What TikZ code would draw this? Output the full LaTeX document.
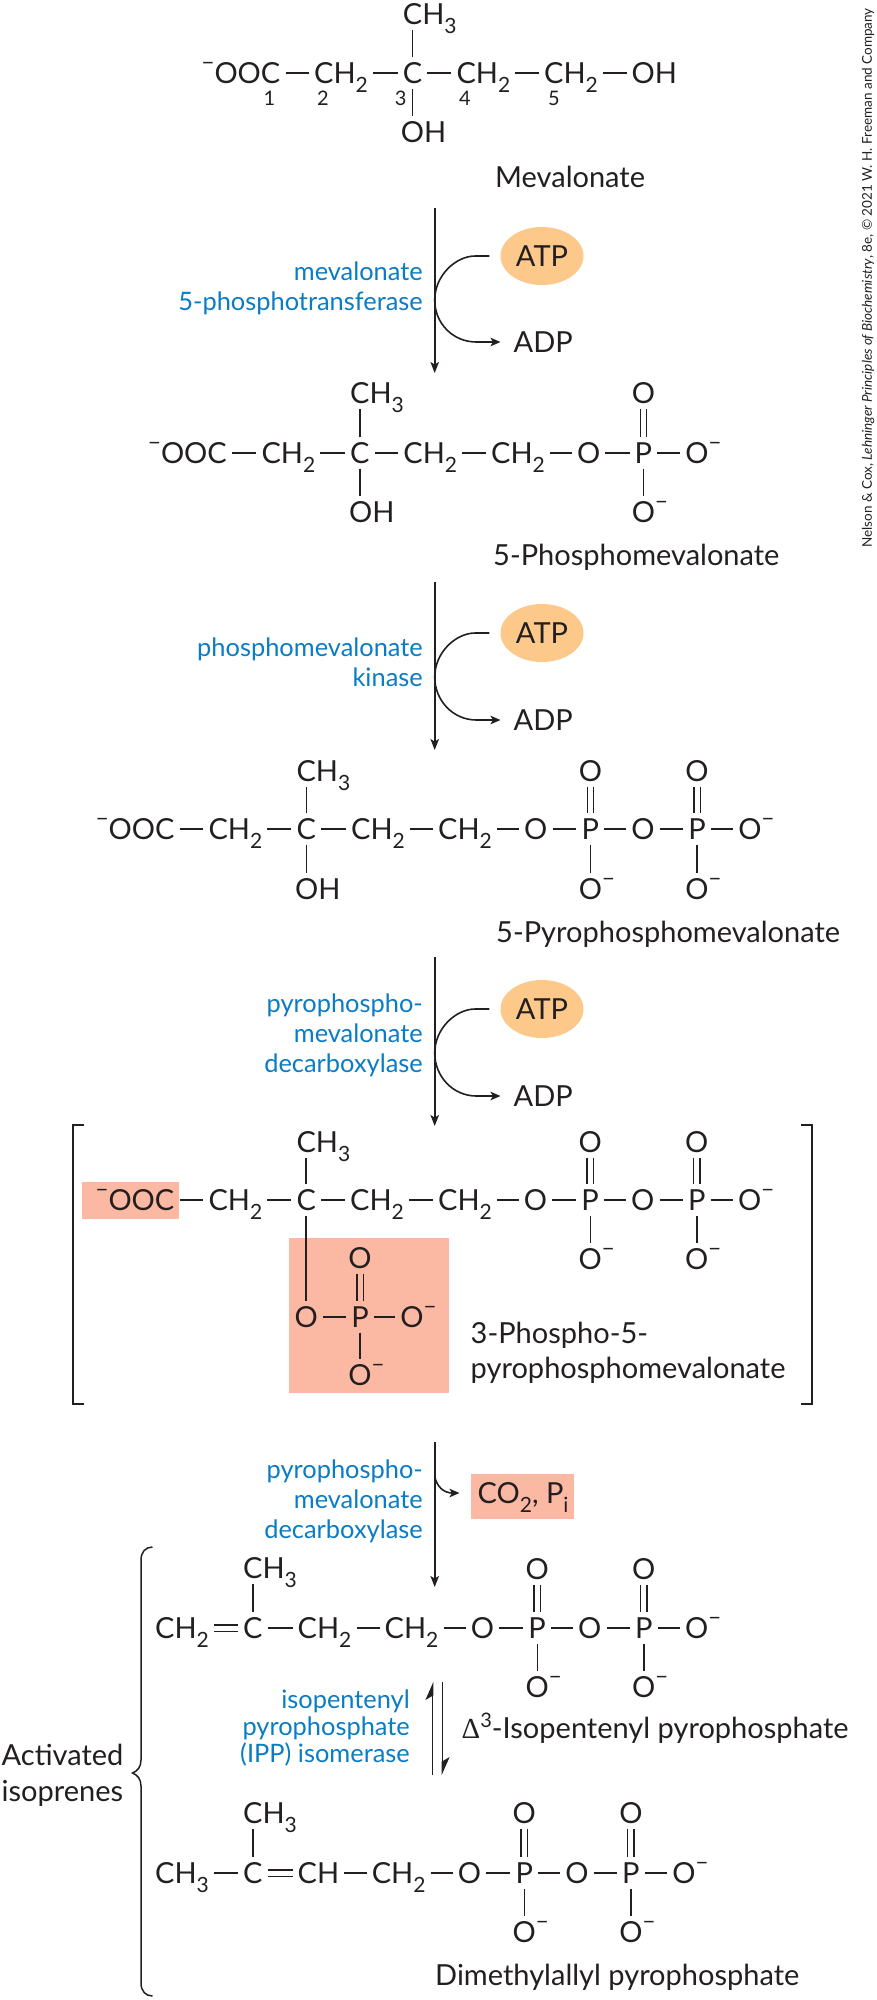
\documentclass[tikz,border=0pt]{standalone}
\usepackage{fontspec}
\setmainfont{Lato}
\newfontfamily\deltafont{Liberation Serif}
\usetikzlibrary{arrows.meta,shapes.geometric,calc}
\definecolor{ink}{HTML}{231F20}
\definecolor{enzyme}{HTML}{0A7CC4}
\definecolor{salmon}{HTML}{FBB9A3}
\definecolor{atpfill}{HTML}{FDC98A}
\newcommand\bodysize{\fontsize{29}{30}\selectfont}
\newcommand\sbs[1]{\raisebox{-8.5pt}{\fontsize{21}{21}\selectfont #1}}
\newcommand\mns{\raisebox{13pt}{\fontsize{22}{22}\selectfont −}}
\newcommand\oneg{O\rlap{\mns}}
\tikzset{
  bond/.style={draw=ink,line width=1.4pt},
  atomtext/.style={inner xsep=5pt,inner ysep=5pt,text height=21pt,text depth=0pt,font=\bodysize,text=ink},
  atom/.style={atomtext,anchor=west,xshift=-5pt},
  catom/.style={atomtext,anchor=center},
  namelabel/.style={anchor=west,inner sep=0pt,text height=21pt,text depth=0pt,font=\bodysize,text=ink},
  carbonnum/.style={inner sep=0pt,font=\fontsize{20}{20}\selectfont,text=ink},
  enzymelabel/.style={anchor=base east,inner sep=0pt,align=right,font=\fontsize{25.4}{30}\selectfont,text=enzyme},
  flow/.style={draw=ink,line width=1.6pt,-{Stealth[length=11pt,width=8.5pt,inset=2.5pt]}},
  sidecurve/.style={draw=ink,line width=1.6pt,-{Stealth[length=10pt,width=8.5pt,inset=2.5pt]}},
  eqarrow/.style={draw=ink,line width=1.6pt,-{Stealth[harpoon,length=16pt,width=14pt,inset=4pt]}},
  atpnode/.style={ellipse,fill=atpfill,minimum width=83pt,minimum height=58pt,inner sep=0pt,font=\bodysize,text=ink},
  productnode/.style={anchor=west,inner ysep=0pt,text height=21pt,text depth=0pt,font=\bodysize,text=ink},
  adpnode/.style={productnode,xshift=-13pt,inner xsep=13pt},
  conode/.style={productnode,xshift=-18pt,inner xsep=18pt},
  bracketline/.style={draw=ink,line width=2pt},
  bracepath/.style={draw=ink,line width=1.5pt},
  hilite/.style={fill=salmon,draw=none}
}
% phosphate double bonds, vertical
\newcommand\dbl[2]{%
  \draw[bond] ([xshift=-3.2pt]#1.south) -- ([xshift=-3.2pt]#1.south |- #2.north);
  \draw[bond] ([xshift=3.2pt]#1.south) -- ([xshift=3.2pt]#1.south |- #2.north);}
% pyrophosphate tail: prefix, atom it hangs on, x of first O, y top, y, y bottom
\newcommand\pyro[6]{%
  \node[catom] (#1oa) at (#3,#5) {O};
  \node[catom] (#1pa) at (#3+54.7,#5) {P};
  \node[catom] (#1ob) at (#3+107.3,#5) {O};
  \node[catom] (#1pb) at (#3+161.3,#5) {P};
  \node[catom] (#1oc) at (#3+214.3,#5) {\oneg};
  \node[catom] (#1ta) at (#3+54.7,#4) {O};
  \node[catom] (#1tb) at (#3+161.3,#4) {O};
  \node[catom] (#1ba) at (#3+54.7,#6) {\oneg};
  \node[catom] (#1bb) at (#3+161.3,#6) {\oneg};
  \draw[bond] (#2) -- (#1oa);
  \draw[bond] (#1oa) -- (#1pa);
  \draw[bond] (#1pa) -- (#1ob);
  \draw[bond] (#1ob) -- (#1pb);
  \draw[bond] (#1pb) -- (#1oc);
  \draw[bond] (#1pa) -- (#1ba);
  \draw[bond] (#1pb) -- (#1bb);
  \dbl{#1ta}{#1pa}\dbl{#1tb}{#1pb}}
% ATP step: prefix, y start, y end, y ATP, y mid, y ADP
\newcommand\atpstep[6]{%
  \coordinate (#1s) at (434.7,#2);
  \coordinate (#1e) at (434.7,#3);
  \draw[flow] (#1s) -- (#1e);
  \node[atpnode] (#1atp) at (542,#4) {ATP};
  \node[adpnode] (#1adp) at (513.5,#6) {ADP};
  \coordinate (#1in) at ([xshift=-11pt]#1atp.west);
  \coordinate (#1mid) at (434.7,#5);
  \draw[sidecurve] (#1in) -- ([xshift=-14pt]#1in) .. controls ([xshift=-34pt]#1in) and ([yshift=24pt]#1mid) .. (#1mid)
     .. controls ([yshift=-23pt]#1mid) and ([xshift=-48pt]#1adp.west) .. ([xshift=-24pt]#1adp.west) -- (#1adp.west);}
\begin{document}
\begin{tikzpicture}[x=1pt,y=-1pt]
\useasboundingbox (0,0) rectangle (877,2000);
% highlights
\fill[hilite] (82.4,1182) rectangle (178.5,1219);
\fill[hilite] (288.5,1238) rectangle (448.5,1393);
\fill[hilite] (471,1474) rectangle (573.5,1518.5);

% Mevalonate
\node[atom] (ma) at (214.3,73) {\llap{\mns}OOC};
\node[atom] (mb) at (314,73) {CH\sbs{2}};
\node[atom] (mc) at (402.7,73) {C};
\node[atom] (md) at (456.4,73) {CH\sbs{2}};
\node[atom] (me) at (544,73) {CH\sbs{2}};
\node[atom] (mf) at (631.5,73) {OH};
\node[atom] (mt) at (402.7,14) {CH\sbs{3}};
\node[atom] (mu) at (400.7,132) {OH};
\draw[bond] (ma) -- (mb);
\draw[bond] (mb) -- (mc);
\draw[bond] (mc) -- (md);
\draw[bond] (md) -- (me);
\draw[bond] (me) -- (mf);
\draw[bond] (mc.north) -- (mc.north |- mt.south);
\draw[bond] (mc.south) -- (mc.south |- mu.north);
\node[carbonnum] (n1) at (269.4,98) {1};
\node[carbonnum] (n2) at (323,98) {2};
\node[carbonnum] (n3) at (400.7,98) {3};
\node[carbonnum] (n4) at (465,98) {4};
\node[carbonnum] (n5) at (554,98) {5};
\node[namelabel] (mname) at (495,177) {Mevalonate};

\atpstep{sa}{208}{373}{256}{300}{342}
\node[enzymelabel] (ea) at (423,310.5) {mevalonate\\5-phosphotransferase};

% 5-Phosphomevalonate
\node[atom] (pa) at (160.8,453) {\llap{\mns}OOC};
\node[atom] (pb) at (261.3,453) {CH\sbs{2}};
\node[atom] (pc) at (350,453) {C};
\node[atom] (pd) at (403.2,453) {CH\sbs{2}};
\node[atom] (pe) at (491,453) {CH\sbs{2}};
\node[catom] (po) at (588.6,453) {O};
\node[catom] (pp) at (643.4,453) {P};
\node[catom] (pq) at (697,453) {\oneg};
\node[catom] (pr) at (643.4,393) {O};
\node[catom] (ps) at (643.4,512) {\oneg};
\node[atom] (pt) at (350,393) {CH\sbs{3}};
\node[atom] (pu) at (349,512) {OH};
\draw[bond] (pa) -- (pb);
\draw[bond] (pb) -- (pc);
\draw[bond] (pc) -- (pd);
\draw[bond] (pd) -- (pe);
\draw[bond] (pe) -- (po);
\draw[bond] (po) -- (pp);
\draw[bond] (pp) -- (pq);
\draw[bond] (pp) -- (ps);
\dbl{pr}{pp}
\draw[bond] (pc.north) -- (pc.north |- pt.south);
\draw[bond] (pc.south) -- (pc.south |- pu.north);
\node[namelabel] (pname) at (493,555) {5-Phosphomevalonate};

\atpstep{sb}{582}{750}{633}{677}{720}
\node[enzymelabel] (eb) at (423,686.5) {phosphomevalonate\\kinase};

% 5-Pyrophosphomevalonate
\node[atom] (qa) at (108.4,829) {\llap{\mns}OOC};
\node[atom] (qb) at (208.3,829) {CH\sbs{2}};
\node[atom] (qc) at (296.4,829) {C};
\node[atom] (qd) at (351,829) {CH\sbs{2}};
\node[atom] (qe) at (438,829) {CH\sbs{2}};
\node[atom] (qt) at (296.4,771) {CH\sbs{3}};
\node[atom] (qu) at (295,889) {OH};
\draw[bond] (qa) -- (qb);
\draw[bond] (qb) -- (qc);
\draw[bond] (qc) -- (qd);
\draw[bond] (qd) -- (qe);
\draw[bond] (qc.north) -- (qc.north |- qt.south);
\draw[bond] (qc.south) -- (qc.south |- qu.north);
\pyro{q}{qe}{535.7}{771}{829}{889}
\node[namelabel] (qname) at (496,932) {5-Pyrophosphomevalonate};

\atpstep{sc}{957}{1126}{1009}{1053}{1096}
\node[enzymelabel] (ec) at (423,1072.5) {pyrophospho-\\mevalonate\\decarboxylase};

% 3-Phospho-5-pyrophosphomevalonate
\node[atom] (ra) at (108.3,1200) {\llap{\mns}OOC};
\node[atom] (rb) at (208.3,1200) {CH\sbs{2}};
\node[atom] (rc) at (296.3,1200) {C};
\node[atom] (rd) at (350,1200) {CH\sbs{2}};
\node[atom] (re) at (438,1200) {CH\sbs{2}};
\node[atom] (rt) at (296.3,1142) {CH\sbs{3}};
\draw[bond] (ra) -- (rb);
\draw[bond] (rb) -- (rc);
\draw[bond] (rc) -- (rd);
\draw[bond] (rd) -- (re);
\draw[bond] (rc.north) -- (rc.north |- rt.south);
\pyro{r}{re}{535.5}{1142}{1200}{1259}
\node[catom] (lo) at (rc |- 0,1317) {O};
\node[catom] (lp) at (360,1317) {P};
\node[catom] (lq) at (412,1317) {\oneg};
\node[catom] (lr) at (360,1258) {O};
\node[catom] (ls) at (360,1375) {\oneg};
\draw[bond] (rc) -- (lo);
\draw[bond] (lo) -- (lp);
\draw[bond] (lp) -- (lq);
\draw[bond] (lp) -- (ls);
\dbl{lr}{lp}
\node[namelabel] (rname) at (470.5,1333) {3-Phospho-5-};
\node[namelabel] (rnameb) at (470.5,1368) {pyrophosphomevalonate};
\draw[bracketline] (84,1125) -- (73.4,1125) -- (73.4,1404) -- (84,1404);
\draw[bracketline] (801,1125) -- (811.5,1125) -- (811.5,1404) -- (801,1404);

% step 4
\coordinate (sds) at (434.7,1442);
\coordinate (sde) at (434.7,1587);
\draw[flow] (sds) -- (sde);
\node[conode] (co) at (477.5,1493) {CO\sbs{2}, P\sbs{i}};
\coordinate (sdm) at (434.7,1476);
\draw[sidecurve] (sdm) .. controls (436.7,1487) and (444,1493) .. (co.west);
\node[enzymelabel] (ed) at (423,1538.5) {pyrophospho-\\mevalonate\\decarboxylase};

% isopentenyl pyrophosphate
\node[atom] (ua) at (155,1628) {CH\sbs{2}};
\node[atom] (ub) at (243,1628) {C};
\node[atom] (uc) at (297.5,1628) {CH\sbs{2}};
\node[atom] (ud) at (384.5,1628) {CH\sbs{2}};
\node[atom] (ut) at (243,1568) {CH\sbs{3}};
\draw[bond] ([yshift=3.2pt]ua.east) -- ([yshift=3.2pt]ub.west);
\draw[bond] ([yshift=-3.2pt]ua.east) -- ([yshift=-3.2pt]ub.west);
\draw[bond] (ub) -- (uc);
\draw[bond] (uc) -- (ud);
\draw[bond] (ub.north) -- (ub.north |- ut.south);
\pyro{u}{ud}{482.5}{1569}{1628}{1687}
\node[namelabel] (uname) at (461.5,1728) {{\deltafont Δ}\raisebox{11pt}{\fontsize{20}{20}\selectfont 3}-Isopentenyl pyrophosphate};

% isomerase
\coordinate (iua) at (432.5,1775);
\coordinate (iub) at (432.5,1682);
\coordinate (ida) at (442.5,1682);
\coordinate (idb) at (442.5,1775);
\draw[eqarrow] (iua) -- (iub);
\draw[eqarrow] (ida) -- (idb);
\node[enzymelabel,font=\fontsize{25.4}{27}\selectfont] (ee) at (410,1762.5) {isopentenyl\\pyrophosphate\\(IPP) isomerase};

% dimethylallyl pyrophosphate
\node[atom] (va) at (155,1873) {CH\sbs{3}};
\node[atom] (vb) at (243,1873) {C};
\node[atom] (vc) at (297.5,1873) {CH};
\node[atom] (vd) at (371.6,1873) {CH\sbs{2}};
\node[atom] (vt) at (243,1813) {CH\sbs{3}};
\draw[bond] (va) -- (vb);
\draw[bond] ([yshift=3.2pt]vb.east) -- ([yshift=3.2pt]vc.west);
\draw[bond] ([yshift=-3.2pt]vb.east) -- ([yshift=-3.2pt]vc.west);
\draw[bond] (vc) -- (vd);
\draw[bond] (vb.north) -- (vb.north |- vt.south);
\pyro{v}{vd}{469.6}{1813}{1873}{1931.5}
\node[namelabel] (vname) at (435,1975) {Dimethylallyl pyrophosphate};

% brace
\draw[bracepath] (152.5,1547) .. controls (145.5,1547) and (141,1552) .. (141,1560)
  -- (141,1760) .. controls (141,1767) and (137.5,1771) .. (132.5,1773)
  .. controls (137.5,1775) and (141,1779) .. (141,1786)
  -- (141,1983) .. controls (141,1991) and (145.5,1996) .. (152.5,1996);
\node[enzymelabel,text=ink,anchor=base,align=center,font=\fontsize{29}{36}\selectfont] (act) at (62.5,1801.5) {Activated\\isoprenes};

% credit
\node[rotate=90,anchor=east,inner sep=0pt,font=\fontsize{13.5}{16}\selectfont,text=ink] (credit) at (868,8) {Nelson \& Cox, \textit{Lehninger Principles of Biochemistry}, 8e, © 2021 W. H. Freeman and Company};
\end{tikzpicture}
\end{document}
